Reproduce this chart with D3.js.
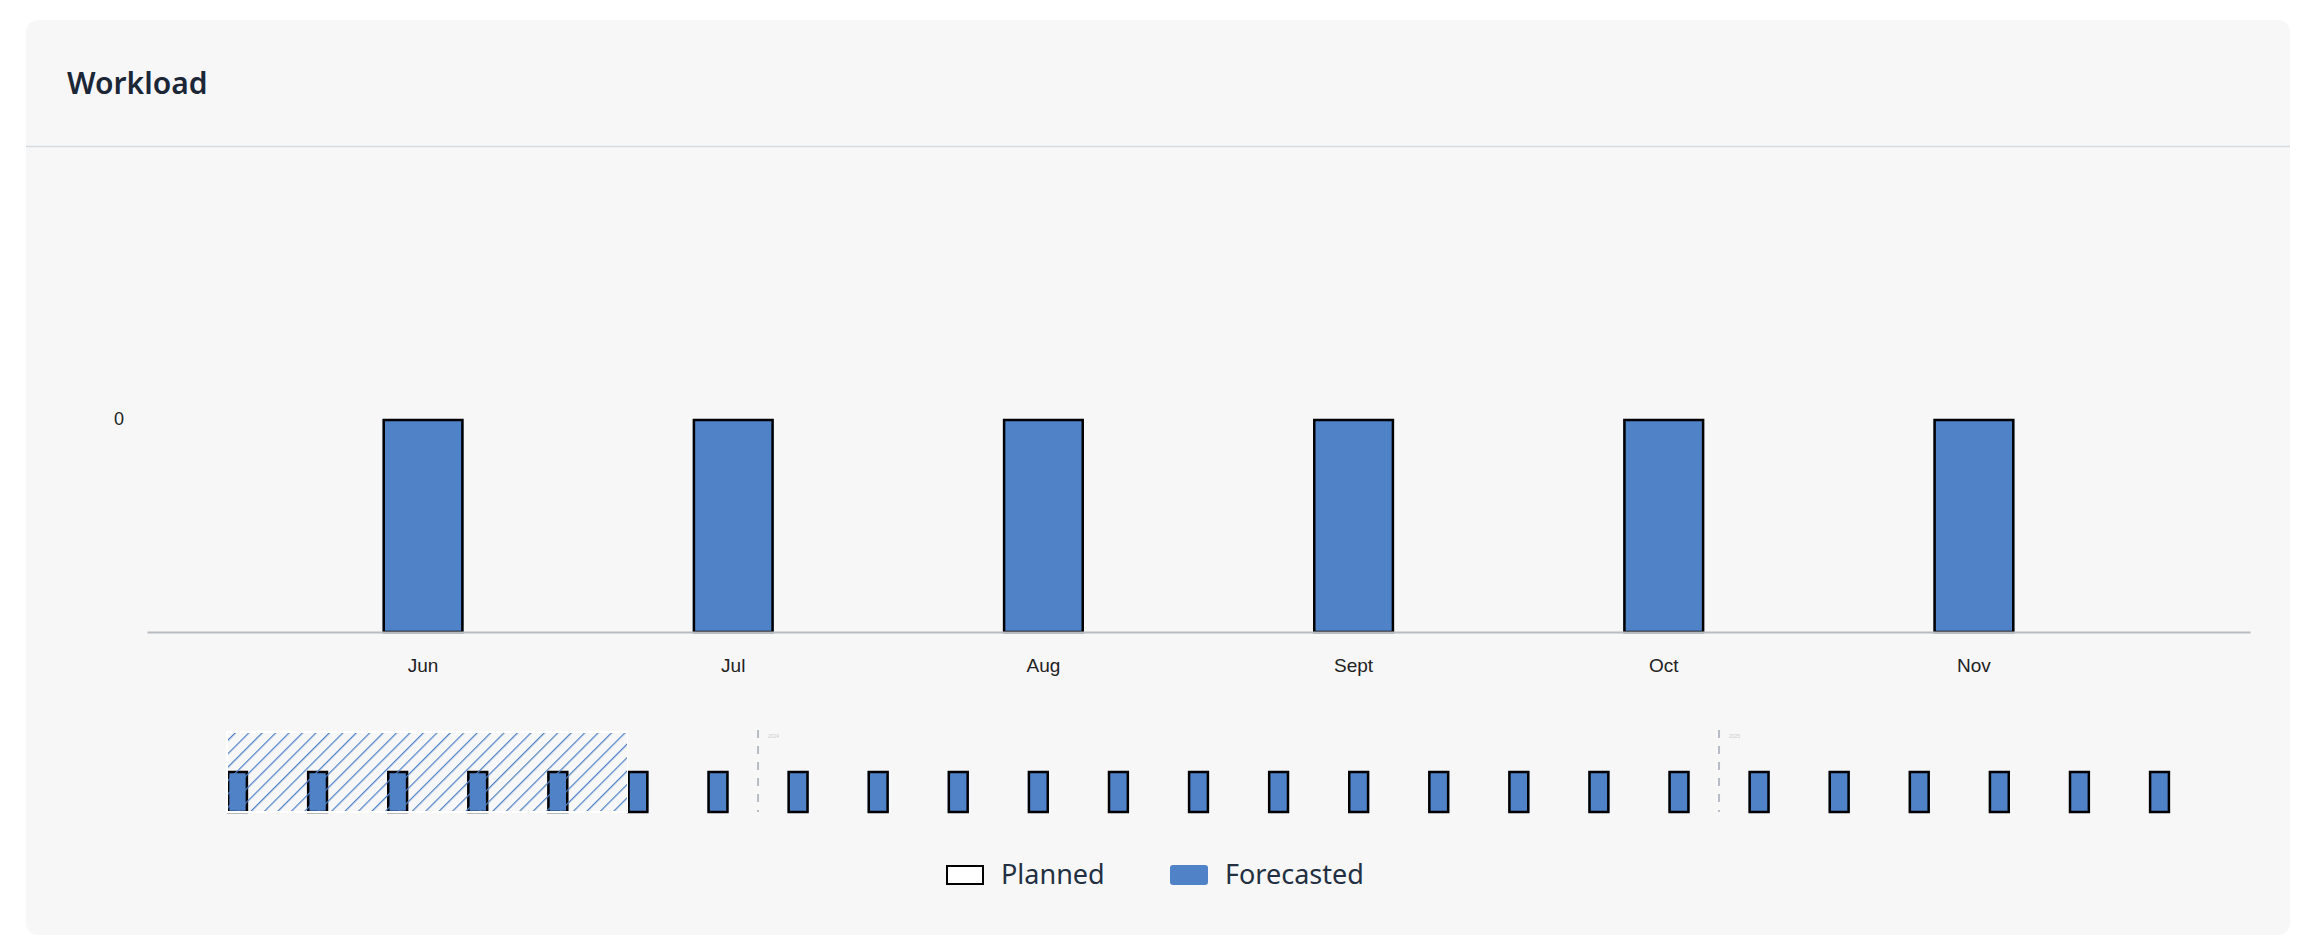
<!DOCTYPE html>
<html>
<head>
<meta charset="utf-8">
<script src="https://cdn.jsdelivr.net/npm/d3@7"></script>
<style>
  body { margin: 0; background: #fff; }
  svg { display: block; }
</style>
</head>
<body>
<svg class="workload" width="2320" height="950"></svg>
<script>
// main chart data (all values are zero in the source)
const months = ['Jun', 'Jul', 'Aug', 'Sept', 'Oct', 'Nov'];
const planned = [0, 0, 0, 0, 0, 0];
const forecasted = [0, 0, 0, 0, 0, 0];

// overview (brush) data, Jun 2023 - Jun 2025
const overviewMonths = [
  '2023-06', '2023-07', '2023-08', '2023-09', '2023-10', '2023-11', '2023-12',
  '2024-01', '2024-02', '2024-03', '2024-04', '2024-05', '2024-06',
  '2024-07', '2024-08', '2024-09', '2024-10', '2024-11', '2024-12',
  '2025-01', '2025-02', '2025-03', '2025-04', '2025-05', '2025-06'
];
const overviewPlanned = [0, 0, 0, 0, 0, 0, 0, 0, 0, 0, 0, 0, 0, 0, 0, 0, 0, 0, 0, 0, 0, 0, 0, 0, 0];
const overviewForecasted = [0, 0, 0, 0, 0, 0, 0, 0, 0, 0, 0, 0, 0, 0, 0, 0, 0, 0, 0, 0, 0, 0, 0, 0, 0];
const yearStarts = ['2024-01', '2025-01'];
const yearLabels = ['2024', '2025'];
const brushRange = ['2023-06', '2023-11'];

const legendItems = ['Planned', 'Forecasted'];

const BLUE = '#5082c8';
const svg = d3.select('svg.workload');

// card
svg.append('rect')
  .attr('x', 26).attr('y', 20)
  .attr('width', 2264).attr('height', 915)
  .attr('rx', 12)
  .attr('fill', '#f7f7f7');

svg.append('text')
  .attr('x', 67).attr('y', 94)
  .attr('font-family', 'Noto Sans')
  .attr('font-weight', 600)
  .attr('font-size', 30)
  .attr('fill', '#1b2636')
  .text('Workload');

svg.append('line')
  .attr('x1', 26).attr('x2', 2290)
  .attr('y1', 146.5).attr('y2', 146.5)
  .attr('stroke', '#d6dbe0')
  .attr('stroke-width', 1.5);

// hatch pattern for the brush selection
const pattern = svg.append('defs').append('pattern')
  .attr('id', 'hatch')
  .attr('patternUnits', 'userSpaceOnUse')
  .attr('width', 9.5).attr('height', 9.5)
  .attr('patternTransform', 'rotate(45)');
pattern.append('line')
  .attr('x1', 0).attr('x2', 0)
  .attr('y1', 0).attr('y2', 9.5)
  .attr('stroke', BLUE)
  .attr('stroke-width', 2.5);

// ---- main chart ----
const x = d3.scaleBand()
  .domain(months)
  .range([147, 2250])
  .paddingInner(0.74)
  .paddingOuter(0.76);

const y = d3.scaleLinear()
  .domain([0, d3.max(planned.concat(forecasted))])
  .range([632, 206]);

const main = svg.append('g');

main.append('g')
  .attr('transform', 'translate(147,0)')
  .call(d3.axisLeft(y).ticks(5).tickSize(0).tickPadding(23))
  .call((g) => g.select('.domain').remove())
  .selectAll('text')
  .attr('font-family', 'Liberation Sans')
  .attr('font-size', 18)
  .attr('fill', '#222');

main.selectAll('rect.forecasted')
  .data(forecasted)
  .join('rect')
  .attr('class', 'forecasted')
  .attr('x', (d, i) => x(months[i]))
  .attr('y', (d) => y(d))
  .attr('width', x.bandwidth())
  .attr('height', (d) => 632 - y(d))
  .attr('fill', BLUE);

main.selectAll('rect.planned')
  .data(planned)
  .join('rect')
  .attr('class', 'planned')
  .attr('x', (d, i) => x(months[i]) + 1)
  .attr('y', (d) => y(d) + 1)
  .attr('width', x.bandwidth() - 2)
  .attr('height', (d) => 632 - y(d) - 1)
  .attr('fill', 'none')
  .attr('stroke', '#000')
  .attr('stroke-width', 2.5);

const xAxis = main.append('g')
  .attr('transform', 'translate(0,632)')
  .call(d3.axisBottom(x).tickSize(0).tickSizeOuter(0).tickPadding(27));
xAxis.select('.domain')
  .attr('stroke', '#b9bcc1')
  .attr('stroke-width', 2);
xAxis.selectAll('text')
  .attr('font-family', 'Liberation Sans')
  .attr('font-size', 19)
  .attr('fill', '#222');

// ---- overview ----
const xo = d3.scaleBand()
  .domain(overviewMonths)
  .range([147, 2250])
  .paddingInner(0.74)
  .paddingOuter(1);

const yo = d3.scaleLinear()
  .domain([0, d3.max(overviewPlanned.concat(overviewForecasted))])
  .range([812, 730]);

const overview = svg.append('g');
const gap = xo.step() - xo.bandwidth();

overview.selectAll('line.year')
  .data(yearStarts)
  .join('line')
  .attr('class', 'year')
  .attr('x1', (d) => xo(d) - gap / 2)
  .attr('x2', (d) => xo(d) - gap / 2)
  .attr('y1', 730).attr('y2', 812)
  .attr('stroke', '#b6bcc4')
  .attr('stroke-width', 2)
  .attr('stroke-dasharray', '8,8');

overview.selectAll('text.year')
  .data(yearLabels)
  .join('text')
  .attr('class', 'year')
  .attr('x', (d, i) => xo(yearStarts[i]) - gap / 2 + 10)
  .attr('y', 738)
  .attr('font-family', 'Liberation Sans')
  .attr('font-size', 5)
  .attr('fill', '#ccc')
  .text((d) => d);

overview.selectAll('rect.forecasted')
  .data(overviewForecasted)
  .join('rect')
  .attr('class', 'forecasted')
  .attr('x', (d, i) => xo(overviewMonths[i]))
  .attr('y', (d) => yo(d))
  .attr('width', xo.bandwidth())
  .attr('height', (d) => 812 - yo(d))
  .attr('fill', BLUE);

overview.selectAll('rect.planned')
  .data(overviewPlanned)
  .join('rect')
  .attr('class', 'planned')
  .attr('x', (d, i) => xo(overviewMonths[i]) + 1)
  .attr('y', (d) => yo(d) + 1)
  .attr('width', xo.bandwidth() - 2)
  .attr('height', (d) => 812 - yo(d) - 1)
  .attr('fill', 'none')
  .attr('stroke', '#000')
  .attr('stroke-width', 2.5);

// brush showing the visible window
const brush = d3.brushX().extent([[147, 732], [2250, 812]]);
const brushG = overview.append('g').call(brush);
brushG.call(brush.move, [xo(brushRange[0]), xo(brushRange[1])]);
brushG.select('.selection')
  .attr('fill', 'url(#hatch)')
  .attr('fill-opacity', 1)
  .attr('stroke', '#fff')
  .attr('stroke-width', 1.5);

// ---- legend ----
const legend = svg.append('g').attr('transform', 'translate(946,865)');
const legendX = [0, 224];
legendItems.forEach((name, i) => {
  const item = legend.append('g').attr('transform', `translate(${legendX[i]},0)`);
  if (i === 0) {
    item.append('rect')
      .attr('x', 1).attr('y', 1)
      .attr('width', 36).attr('height', 18)
      .attr('fill', '#fff')
      .attr('stroke', '#000')
      .attr('stroke-width', 2);
  } else {
    item.append('rect')
      .attr('width', 38).attr('height', 20)
      .attr('rx', 3)
      .attr('fill', BLUE);
  }
  item.append('text')
    .attr('x', 55).attr('y', 19)
    .attr('font-family', 'Noto Sans')
    .attr('font-size', 27)
    .attr('fill', '#233042')
    .text(name);
});
</script>
</body>
</html>
